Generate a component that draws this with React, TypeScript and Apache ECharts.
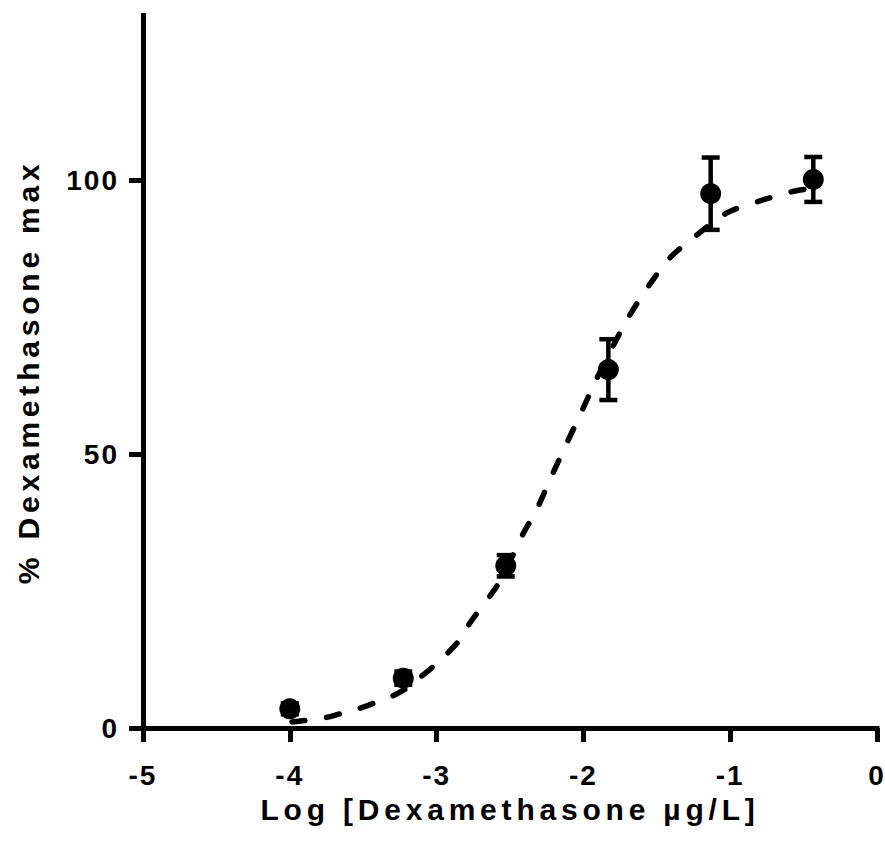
import React, { useEffect, useRef } from "react";
import * as echarts from "echarts";

// Measured points (mean ± error)
const pointX = [-4.0, -3.227, -2.529, -1.83, -1.133, -0.434];
const pointY = [3.5, 9.1, 29.6, 65.4, 97.5, 100.1];
const pointErr = [1.0, 1.2, 1.95, 5.55, 6.6, 4.1];

// Fitted curve
const curveX = [
  -3.985, -3.774, -3.658, -3.535, -3.42, -3.304, -3.202, -3.1, -3.011, -2.923,
  -2.84, -2.772, -2.623, -2.555, -2.398, -2.33, -2.228, -2.125, -2.023, -1.921,
  -1.84, -1.696, -1.56, -1.41, -1.226, -1.022, -0.797, -0.559, -0.434,
];
const curveY = [
  1.1, 1.8, 2.6, 3.5, 4.6, 5.8, 7.3, 9.5, 11.5, 13.7,
  16.2, 19.2, 24.6, 27.4, 36.1, 39.2, 45.3, 51.3, 57.1, 63.1,
  67.5, 74.8, 80.5, 85.8, 90.0, 94.0, 96.2, 98.0, 98.5,
];

const yTicks = [0, 50, 100];
const xTitle = "Log [Dexamethasone µg/L]";
const yTitle = "% Dexamethasone max";

const FONT = "Liberation Sans";

export default function App() {
  const ref = useRef<HTMLDivElement>(null);

  useEffect(() => {
    if (!ref.current) return;
    const chart = echarts.init(ref.current, undefined, { renderer: "svg" });

    const curveData = curveX.map((x, i) => [x, curveY[i]]);
    const pointData = pointX.map((x, i) => [x, pointY[i]]);
    const errData = pointX.map((x, i) => [x, pointY[i] - pointErr[i], pointY[i] + pointErr[i]]);

    const titleStyle = {
      color: "#000",
      fontFamily: FONT,
      fontWeight: "bold" as const,
      fontSize: 30,
      lineHeight: 24,
    };
    const tickStyle = {
      color: "#000",
      fontFamily: FONT,
      fontWeight: "bold" as const,
      fontSize: 28,
      lineHeight: 22,
    };

    chart.setOption({
      animation: false,
      backgroundColor: "#fff",
      grid: {
        left: 143,
        right: 8,
        top: 15.6,
        bottom: 124,
        containLabel: false,
        outerBoundsMode: "none",
      },
      xAxis: {
        type: "value",
        min: -5,
        max: 0,
        interval: 1,
        name: xTitle,
        nameLocation: "middle",
        nameGap: 69,
        nameMoveOverlap: false,
        nameTextStyle: { ...titleStyle },
        axisLine: {
          show: true,
          onZero: false,
          lineStyle: { color: "#000", width: 5, cap: "square" },
        },
        axisTick: { show: true, inside: false, length: 14, lineStyle: { color: "#000", width: 5 } },
        axisLabel: { ...tickStyle, margin: 36 },
        splitLine: { show: false },
      },
      yAxis: {
        type: "value",
        min: 0,
        max: 130,
        interval: 50,
        name: yTitle,
        nameLocation: "middle",
        nameGap: 103,
        nameMoveOverlap: false,
        nameRotate: 90,
        nameTextStyle: { ...titleStyle },
        axisLine: {
          show: true,
          onZero: false,
          lineStyle: { color: "#000", width: 5, cap: "square" },
        },
        axisTick: {
          show: true,
          inside: false,
          length: 14,
          lineStyle: { color: "#000", width: 5 },
          customValues: yTicks,
        },
        axisLabel: { ...tickStyle, margin: 24, customValues: yTicks },
        splitLine: { show: false },
      },
      series: [
        {
          type: "line",
          data: curveData,
          showSymbol: false,
          symbol: "none",
          smooth: 0.3,
          lineStyle: { color: "#000", width: 5.5, type: [13, 22], cap: "round" },
          z: 2,
        },
        {
          type: "custom",
          data: errData,
          renderItem: (params: any, api: any) => {
            const x = api.value(0);
            const lo = api.coord([x, api.value(1)]);
            const hi = api.coord([x, api.value(2)]);
            const w = 9;
            const st = { stroke: "#000", lineWidth: 4.5 };
            return {
              type: "group",
              children: [
                { type: "line", shape: { x1: lo[0], y1: lo[1], x2: hi[0], y2: hi[1] }, style: st },
                { type: "line", shape: { x1: hi[0] - w, y1: hi[1], x2: hi[0] + w, y2: hi[1] }, style: st },
                { type: "line", shape: { x1: lo[0] - w, y1: lo[1], x2: lo[0] + w, y2: lo[1] }, style: st },
              ],
            };
          },
          z: 3,
        },
        {
          type: "scatter",
          data: pointData,
          symbol: "circle",
          symbolSize: 21,
          itemStyle: { color: "#000", opacity: 1 },
          z: 4,
        },
      ],
    });

    // GraphPad-style letter spacing on texts
    const svg = ref.current.querySelector("svg");
    if (svg) {
      svg.querySelectorAll("text").forEach((t) => {
        const s = t.textContent || "";
        if (s === xTitle || s === yTitle) t.setAttribute("letter-spacing", "4.8px");
        else t.setAttribute("letter-spacing", "2px");
      });
    }

    return () => chart.dispose();
  }, []);

  return (
    <div
      ref={ref}
      style={{ position: "absolute", left: 0, top: 0, width: 885, height: 852 }}
    />
  );
}
